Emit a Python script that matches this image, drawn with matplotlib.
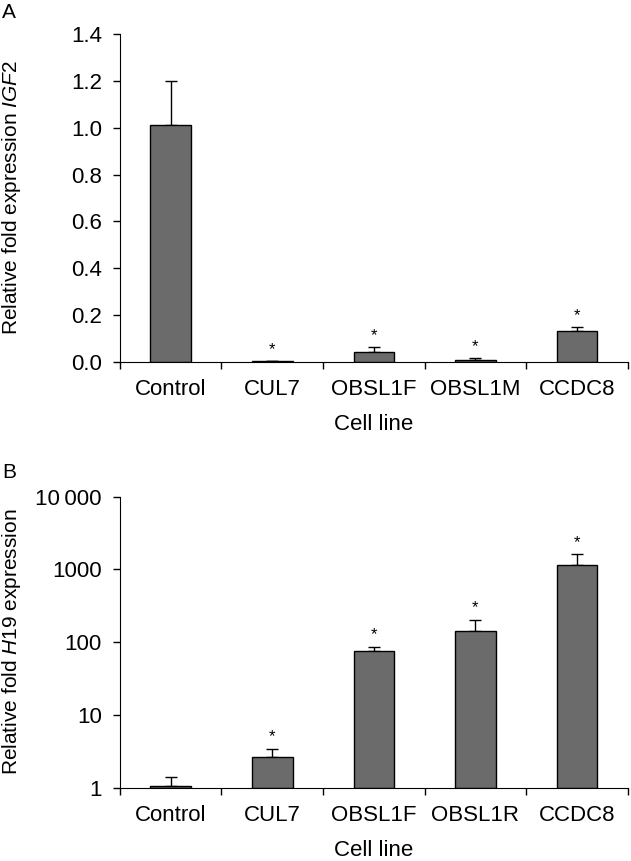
import matplotlib
matplotlib.use("Agg")
import matplotlib.pyplot as plt
import numpy as np

plt.rcParams['font.family'] = ['Liberation Sans', 'DejaVu Sans']
plt.rcParams['mathtext.fontset'] = 'custom'
plt.rcParams['mathtext.it'] = 'Liberation Sans:italic'
plt.rcParams['mathtext.rm'] = 'Liberation Sans'

# Panel A data
cats_a = ["Control", "CUL7", "OBSL1F", "OBSL1M", "CCDC8"]
vals_a = [1.01, 0.003, 0.044, 0.010, 0.131]
errtop_a = [1.20, 0.004, 0.063, 0.016, 0.148]
sig_a = [False, True, True, True, True]
yticks_a = [0.0, 0.2, 0.4, 0.6, 0.8, 1.0, 1.2, 1.4]
yticklabels_a = ["0.0", "0.2", "0.4", "0.6", "0.8", "1.0", "1.2", "1.4"]

# Panel B data
cats_b = ["Control", "CUL7", "OBSL1F", "OBSL1R", "CCDC8"]
vals_b = [1.04, 2.62, 76.4, 144.0, 1150.0]
errtop_b = [1.40, 3.44, 86.7, 204.0, 1630.0]
sig_b = [False, True, True, True, True]
yticks_b = [1, 10, 100, 1000, 10000]
yticklabels_b = ["1", "10", "100", "1000", "10\u2009000"]

bar_color = "#6b6b6b"
fs = 16
fs_lab = 15

fig = plt.figure(figsize=(6.31, 8.61), dpi=100)
axA = fig.add_axes([0.190, 0.5796, 0.805, 0.3809])
axB = fig.add_axes([0.190, 0.0851, 0.805, 0.3380])


def style(ax, cats):
    n = len(cats)
    x = np.arange(n)
    ax.set_xlim(-0.5, n - 0.5)
    ax.spines['top'].set_visible(False)
    ax.spines['right'].set_visible(False)
    ax.set_xticks(x)
    ax.set_xticklabels(cats, fontsize=fs)
    ax.set_xticks(np.arange(n + 1) - 0.5, minor=True)
    ax.tick_params(axis='x', which='major', length=0, pad=12.5)
    ax.tick_params(axis='x', which='minor', length=5, width=1, direction='out')
    ax.tick_params(axis='y', which='major', length=5, width=1, direction='out', pad=8, labelsize=fs)
    ax.tick_params(axis='y', which='minor', length=0)
    ax.set_xlabel("Cell line", fontsize=fs, labelpad=10)
    return x


# Panel A
x = style(axA, cats_a)
axA.bar(x, vals_a, width=0.4, color=bar_color, edgecolor='black', linewidth=1, zorder=2)
err_up = np.array(errtop_a) - np.array(vals_a)
axA.errorbar(x, vals_a, yerr=[np.zeros(len(x)), err_up], fmt='none', ecolor='black',
             elinewidth=1, capsize=4, capthick=1, zorder=1)
axA.set_ylim(0, 1.4)
axA.set_yticks(yticks_a)
axA.set_yticklabels(yticklabels_a)
for xi, top, s in zip(x, errtop_a, sig_a):
    if s:
        axA.annotate("*", (xi, top), xytext=(0, 3), textcoords='offset points',
                     ha='center', va='bottom', fontsize=12)
axA.set_ylabel("Relative fold expression $\\mathit{IGF2}$", fontsize=fs_lab)
axA.yaxis.set_label_coords(-0.19, 0.5)
fig.text(0.003, 0.996, "A", fontsize=fs_lab, ha='left', va='top')

# Panel B
x = style(axB, cats_b)
axB.set_yscale('log')
axB.bar(x, np.array(vals_b) - 1, bottom=1, width=0.4, color=bar_color,
        edgecolor='black', linewidth=1, zorder=2)
err_up = np.array(errtop_b) - np.array(vals_b)
axB.errorbar(x, vals_b, yerr=[np.zeros(len(x)), err_up], fmt='none', ecolor='black',
             elinewidth=1, capsize=4, capthick=1, zorder=1)
axB.set_ylim(1, 10000)
axB.set_yticks(yticks_b)
axB.set_yticklabels(yticklabels_b)
axB.yaxis.set_minor_locator(matplotlib.ticker.NullLocator())
for xi, top, s in zip(x, errtop_b, sig_b):
    if s:
        axB.annotate("*", (xi, top), xytext=(0, 3), textcoords='offset points',
                     ha='center', va='bottom', fontsize=12)
axB.set_ylabel("Relative fold $\\mathit{H19}$ expression", fontsize=fs_lab)
axB.yaxis.set_label_coords(-0.19, 0.5)
fig.text(0.003, 0.462, "B", fontsize=fs_lab, ha='left', va='top')

fig.savefig("out.png", dpi=100)
